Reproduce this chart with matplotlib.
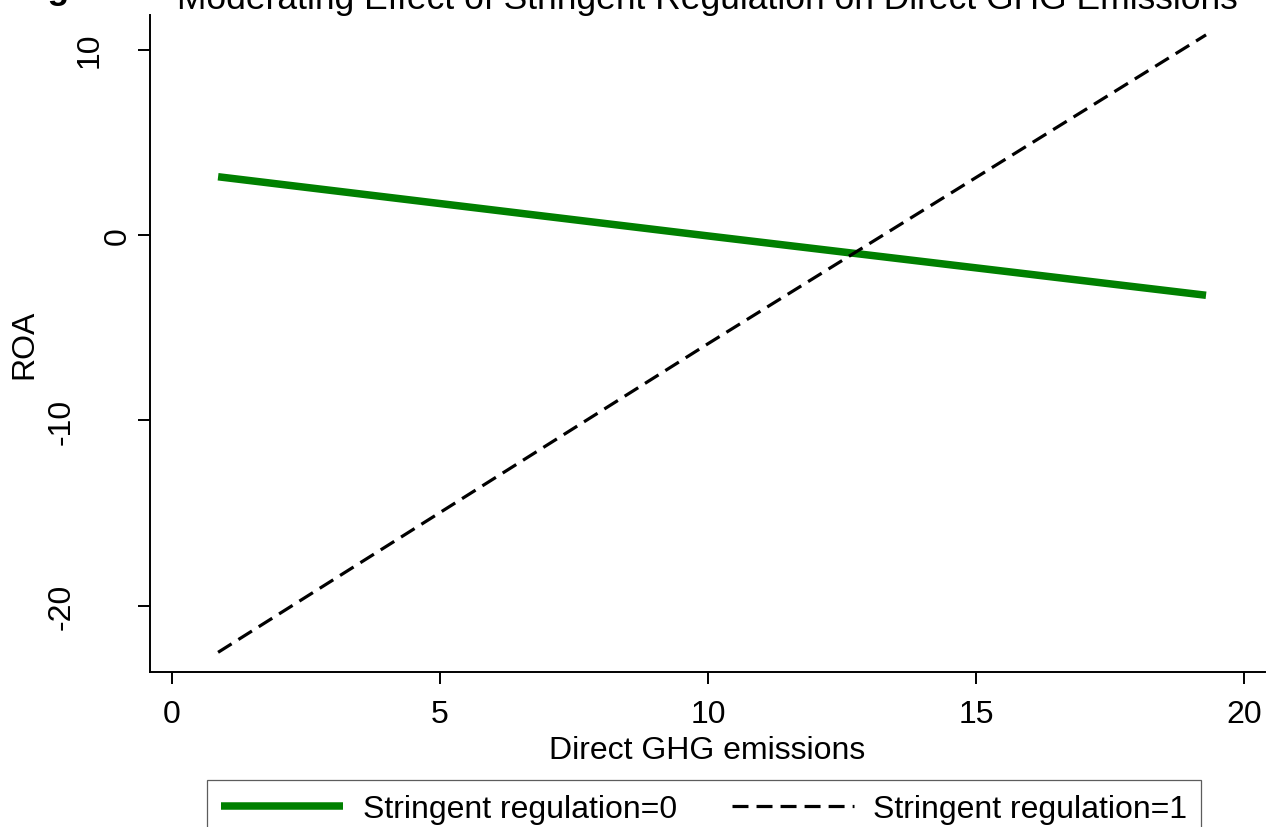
import matplotlib
matplotlib.use("Agg")
import matplotlib.pyplot as plt

plt.rcParams['font.family'] = ['Liberation Sans', 'DejaVu Sans']
plt.rcParams['lines.scale_dashes'] = False

# ---- data ----
emissions = [0.86, 10.0, 19.29]
roa_reg0 = [3.14, -0.05, -3.25]
roa_reg1 = [-22.5, -5.86, 10.79]
series_labels = ["Stringent regulation=0", "Stringent regulation=1"]
x_ticks = [0, 5, 10, 15, 20]
y_ticks = [10, 0, -10, -20]
title = "Moderating Effect of Stringent Regulation on Direct GHG Emissions"
x_label = "Direct GHG emissions"
y_label = "ROA"

W, H = 1267, 828
FS = 23
fig = plt.figure(figsize=(W / 100, H / 100), dpi=100)
ax = fig.add_axes([150 / W, 1 - 673 / H, (1265 - 150) / W, (673 - 16) / H])

ax.plot(emissions, roa_reg0, color="#008000", lw=5.4, solid_capstyle="butt",
        label=series_labels[0])
ax.plot(emissions, roa_reg1, color="black", lw=2.3, dashes=(11.5, 5.8),
        dash_capstyle="butt", label=series_labels[1])

ax.set_xlim(-0.41, 20.39)
ax.set_ylim(-23.56, 11.86)
ax.set_xticks(x_ticks)
ax.set_xticklabels([str(v) for v in x_ticks], fontsize=FS)
ax.set_yticks(y_ticks)
ax.set_yticklabels([str(v) for v in y_ticks], fontsize=FS, rotation=90,
                   va="center", ha="right")

for s in ("top", "right"):
    ax.spines[s].set_visible(False)
for s in ("left", "bottom"):
    ax.spines[s].set_linewidth(1.4)
ax.tick_params(axis="both", direction="out", length=8.6, width=1.4)
ax.tick_params(axis="x", pad=11)
# Stata-like placement of vertical y tick labels
for t, lab in zip(ax.yaxis.get_major_ticks(), y_ticks):
    n = len(str(lab))
    t.set_pad(4 + 20 * (n - 1))

ax.set_xlabel(x_label, fontsize=FS, labelpad=4)
ax.set_ylabel(y_label, fontsize=FS)
ax.yaxis.set_label_coords((39.5 - 150) / 1115, 0.5)
ax.set_title(title, fontsize=25.5, pad=0)

fig.text(70 / W, 1 + 1.5 / H, "Fig", ha="right", va="baseline",
         fontsize=25.5, fontweight="bold")

leg = fig.legend(loc="upper left", bbox_to_anchor=(207 / W, 1 - 781 / H),
                 ncol=2, fontsize=FS, frameon=True, fancybox=False,
                 borderaxespad=0, borderpad=0.45, handlelength=3.82,
                 handletextpad=0.6, columnspacing=1.72)
leg.get_frame().set_edgecolor("#333333")
leg.get_frame().set_linewidth(0.9)

fig.savefig("out.png", dpi=100, facecolor="white")
